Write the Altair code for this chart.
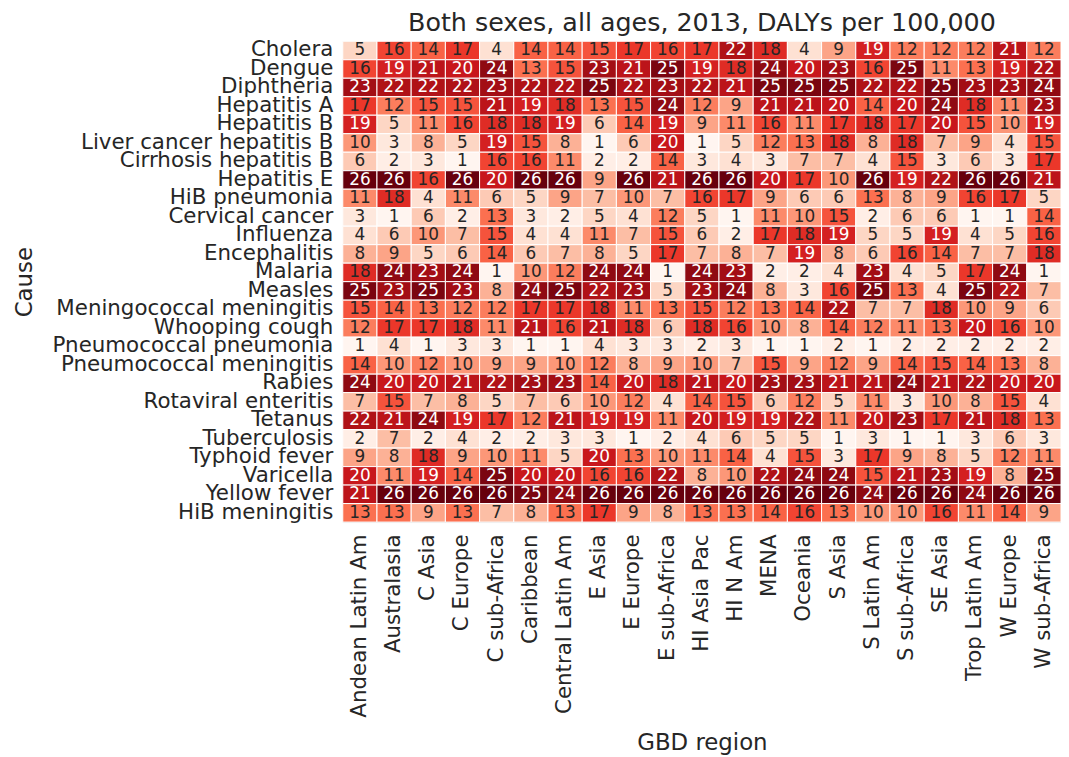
import altair as alt
import pandas as pd

causes = [
    "Cholera", "Dengue", "Diphtheria", "Hepatitis A", "Hepatitis B",
    "Liver cancer hepatitis B", "Cirrhosis hepatitis B", "Hepatitis E",
    "HiB pneumonia", "Cervical cancer", "Influenza", "Encephalitis", "Malaria",
    "Measles", "Meningococcal meningitis", "Whooping cough",
    "Pneumococcal pneumonia", "Pneumococcal meningitis", "Rabies",
    "Rotaviral enteritis", "Tetanus", "Tuberculosis", "Typhoid fever",
    "Varicella", "Yellow fever", "HiB meningitis",
]

regions = [
    "Andean Latin Am", "Australasia", "C Asia", "C Europe", "C sub-Africa",
    "Caribbean", "Central Latin Am", "E Asia", "E Europe", "E sub-Africa",
    "HI Asia Pac", "HI N Am", "MENA", "Oceania", "S Asia", "S Latin Am",
    "S sub-Africa", "SE Asia", "Trop Latin Am", "W Europe", "W sub-Africa",
]

ranks = [
    [5, 16, 14, 17, 4, 14, 14, 15, 17, 16, 17, 22, 18, 4, 9, 19, 12, 12, 12, 21, 12],
    [16, 19, 21, 20, 24, 13, 15, 23, 21, 25, 19, 18, 24, 20, 23, 16, 25, 11, 13, 19, 22],
    [23, 22, 22, 22, 23, 22, 22, 25, 22, 23, 22, 21, 25, 25, 25, 22, 22, 25, 23, 23, 24],
    [17, 12, 15, 15, 21, 19, 18, 13, 15, 24, 12, 9, 21, 21, 20, 14, 20, 24, 18, 11, 23],
    [19, 5, 11, 16, 18, 18, 19, 6, 14, 19, 9, 11, 16, 11, 17, 18, 17, 20, 15, 10, 19],
    [10, 3, 8, 5, 19, 15, 8, 1, 6, 20, 1, 5, 12, 13, 18, 8, 18, 7, 9, 4, 15],
    [6, 2, 3, 1, 16, 16, 11, 2, 2, 14, 3, 4, 3, 7, 7, 4, 15, 3, 6, 3, 17],
    [26, 26, 16, 26, 20, 26, 26, 9, 26, 21, 26, 26, 20, 17, 10, 26, 19, 22, 26, 26, 21],
    [11, 18, 4, 11, 6, 5, 9, 7, 10, 7, 16, 17, 9, 6, 6, 13, 8, 9, 16, 17, 5],
    [3, 1, 6, 2, 13, 3, 2, 5, 4, 12, 5, 1, 11, 10, 15, 2, 6, 6, 1, 1, 14],
    [4, 6, 10, 7, 15, 4, 4, 11, 7, 15, 6, 2, 17, 18, 19, 5, 5, 19, 4, 5, 16],
    [8, 9, 5, 6, 14, 6, 7, 8, 5, 17, 7, 8, 7, 19, 8, 6, 16, 14, 7, 7, 18],
    [18, 24, 23, 24, 1, 10, 12, 24, 24, 1, 24, 23, 2, 2, 4, 23, 4, 5, 17, 24, 1],
    [25, 23, 25, 23, 8, 24, 25, 22, 23, 5, 23, 24, 8, 3, 16, 25, 13, 4, 25, 22, 7],
    [15, 14, 13, 12, 12, 17, 17, 18, 11, 13, 15, 12, 13, 14, 22, 7, 7, 18, 10, 9, 6],
    [12, 17, 17, 18, 11, 21, 16, 21, 18, 6, 18, 16, 10, 8, 14, 12, 11, 13, 20, 16, 10],
    [1, 4, 1, 3, 3, 1, 1, 4, 3, 3, 2, 3, 1, 1, 2, 1, 2, 2, 2, 2, 2],
    [14, 10, 12, 10, 9, 9, 10, 12, 8, 9, 10, 7, 15, 9, 12, 9, 14, 15, 14, 13, 8],
    [24, 20, 20, 21, 22, 23, 23, 14, 20, 18, 21, 20, 23, 23, 21, 21, 24, 21, 22, 20, 20],
    [7, 15, 7, 8, 5, 7, 6, 10, 12, 4, 14, 15, 6, 12, 5, 11, 3, 10, 8, 15, 4],
    [22, 21, 24, 19, 17, 12, 21, 19, 19, 11, 20, 19, 19, 22, 11, 20, 23, 17, 21, 18, 13],
    [2, 7, 2, 4, 2, 2, 3, 3, 1, 2, 4, 6, 5, 5, 1, 3, 1, 1, 3, 6, 3],
    [9, 8, 18, 9, 10, 11, 5, 20, 13, 10, 11, 14, 4, 15, 3, 17, 9, 8, 5, 12, 11],
    [20, 11, 19, 14, 25, 20, 20, 16, 16, 22, 8, 10, 22, 24, 24, 15, 21, 23, 19, 8, 25],
    [21, 26, 26, 26, 26, 25, 24, 26, 26, 26, 26, 26, 26, 26, 26, 24, 26, 26, 24, 26, 26],
    [13, 13, 9, 13, 7, 8, 13, 17, 9, 8, 13, 13, 14, 16, 13, 10, 10, 16, 11, 14, 9],
]

reds = ["#fff5f0", "#fee0d2", "#fcbba1", "#fc9272", "#fb6a4a",
        "#ef3b2c", "#cb181d", "#a50f15", "#67000d"]

rows = []
for i, cause in enumerate(causes):
    for j, region in enumerate(regions):
        rows.append({"cause": cause, "region": region, "rank": ranks[i][j]})
df = pd.DataFrame(rows)

vmin, vmax = 1, 26
stops = [vmin + (vmax - vmin) * k / (len(reds) - 1) for k in range(len(reds))]

FONT = "DejaVu Sans"
INK = "#262626"
W, H = 723, 484

base = alt.Chart(df).encode(
    x=alt.X("region:N", sort=regions, title="GBD region",
            axis=alt.Axis(labelAngle=-90, labelFontSize=21.5, titleFontSize=23,
                          labelFont=FONT, titleFont=FONT, ticks=False,
                          domain=False, labelPadding=12, titlePadding=14,
                          titleFontWeight="normal", labelColor=INK,
                          titleColor=INK, labelBaseline="middle",
                          labelAlign="right", labelLimit=400)),
    y=alt.Y("cause:N", sort=causes, title="Cause",
            axis=alt.Axis(labelFontSize=21.5, titleFontSize=23, labelFont=FONT,
                          titleFont=FONT, ticks=False, domain=False,
                          labelPadding=10, labelLimit=400,
                          titleX=-320, titleY=H / 2, titleAngle=270,
                          titleAlign="center", titleBaseline="middle",
                          titleFontWeight="normal", labelColor=INK,
                          titleColor=INK)),
)

rects = base.mark_rect(stroke="white", strokeWidth=1).encode(
    color=alt.Color("rank:Q", legend=None,
                    scale=alt.Scale(domain=stops, range=reds,
                                    interpolate="rgb")),
)

texts = base.mark_text(font=FONT, fontSize=17, baseline="middle").encode(
    text="rank:Q",
    color=alt.condition(alt.datum.rank >= 19, alt.value("white"),
                        alt.value(INK)),
)

chart = (rects + texts).properties(
    width=W,
    height=H,
    title=alt.TitleParams("Both sexes, all ages, 2013, DALYs per 100,000",
                          fontSize=25.5, font=FONT, fontWeight="normal",
                          color=INK, anchor="middle", offset=3),
    padding={"left": 337, "top": 31, "right": 0, "bottom": 232},
    autosize=alt.AutoSizeParams(type="none"),
).configure_view(stroke=None).configure(background="white")

chart.save("out.html", embed_options={"renderer": "svg", "actions": False})
